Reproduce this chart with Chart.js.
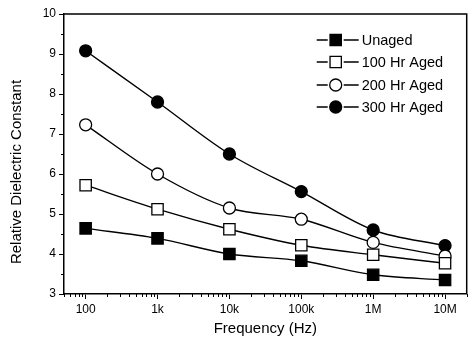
<!DOCTYPE html>
<html>
<head>
<meta charset="utf-8">
<script src="https://cdn.jsdelivr.net/npm/chart.js@4.4.1/dist/chart.umd.min.js"></script>
<style>
  html, body { margin: 0; padding: 0; background: #fff; }
  #wrap { width: 476px; height: 343px; }
</style>
</head>
<body>
<div id="wrap"><canvas id="chart"></canvas></div>
<script>
// 频率（Hz）与各老化时间的相对介电常数
const frequencies = [100, 1000, 10000, 100000, 1000000, 10000000];
const unaged   = [4.64, 4.39, 4.00, 3.83, 3.48, 3.35];
const aged100  = [5.72, 5.12, 4.62, 4.22, 3.98, 3.77];
const aged200  = [7.23, 6.00, 5.15, 4.87, 4.29, 3.95];
const aged300  = [9.08, 7.80, 6.50, 5.56, 4.60, 4.21];
const seriesNames = ['Unaged', '100 Hr Aged', '200 Hr Aged', '300 Hr Aged'];
const xTickLabels = { 100: '100', 1000: '1k', 10000: '10k', 100000: '100k', 1000000: '1M', 10000000: '10M' };

const FONT = 'Arial, "Liberation Sans", sans-serif';

function makeSeries(label, values, style, fill, radius) {
    return {
        label: label,
        data: values.map((v, i) => ({ x: frequencies[i], y: v })),
        borderColor: '#000',
        borderWidth: 1.4,
        cubicInterpolationMode: 'monotone',
        pointStyle: style,
        pointRadius: radius,
        pointHoverRadius: radius,
        pointBackgroundColor: fill,
        pointBorderColor: '#000',
        pointBorderWidth: 1.3
    };
}

const datasets = [
    makeSeries(seriesNames[0], unaged, 'rect', '#000', 8),
    makeSeries(seriesNames[1], aged100, 'rect', '#fff', 8),
    makeSeries(seriesNames[2], aged200, 'circle', '#fff', 6),
    makeSeries(seriesNames[3], aged300, 'circle', '#000', 6)
];

// 边框、次刻度、坐标轴标题和图例
const decorPlugin = {
    id: 'decor',
    afterDraw(chart) {
        const ctx = chart.ctx;
        const area = chart.chartArea;
        const xs = chart.scales.x;
        const ys = chart.scales.y;
        ctx.save();
        ctx.strokeStyle = '#000';
        ctx.lineWidth = 1.5;
        ctx.beginPath();
        ctx.moveTo(area.left, area.top);
        ctx.lineTo(area.right, area.top);
        ctx.lineTo(area.right, area.bottom);
        ctx.stroke();

        // 次刻度
        ctx.lineWidth = 1;
        ctx.beginPath();
        for (let d = 10; d <= 1e7; d *= 10) {
            for (let m = 2; m <= 9; m++) {
                const v = d * m;
                if (v < xs.min || v > xs.max) continue;
                const px = Math.round(xs.getPixelForValue(v)) + 0.5;
                ctx.moveTo(px, area.bottom);
                ctx.lineTo(px, area.bottom + 3);
            }
        }
        for (let v = ys.min + 0.5; v < ys.max; v += 1) {
            const py = Math.round(ys.getPixelForValue(v)) + 0.5;
            ctx.moveTo(area.left, py);
            ctx.lineTo(area.left - 3, py);
        }
        ctx.stroke();

        // 坐标轴标题
        ctx.fillStyle = '#000';
        ctx.font = '15px ' + FONT;
        ctx.textAlign = 'center';
        ctx.textBaseline = 'middle';
        ctx.fillText('Frequency (Hz)', (area.left + area.right) / 2, 329);
        ctx.save();
        ctx.translate(17, 172);
        ctx.rotate(-Math.PI / 2);
        ctx.fillText('Relative Dielectric Constant', 0, 0);
        ctx.restore();

        // 图例：线段在标记两侧断开
        const lx = area.right - 150;
        const rows = [40, 62, 85, 107];
        chart.data.datasets.forEach((ds, i) => {
            const y = rows[i];
            const cx = lx + 19;
            const gap = ds.pointStyle === 'rect' ? 7 : 7;
            ctx.strokeStyle = '#000';
            ctx.lineWidth = 1.4;
            ctx.beginPath();
            ctx.moveTo(lx, y);
            ctx.lineTo(cx - gap - 1, y);
            ctx.moveTo(cx + gap + 1, y);
            ctx.lineTo(lx + 42, y);
            ctx.stroke();
            ctx.fillStyle = ds.pointBackgroundColor;
            ctx.lineWidth = ds.pointBorderWidth;
            Chart.helpers.drawPoint(ctx, {
                pointStyle: ds.pointStyle,
                radius: ds.pointRadius,
                rotation: 0,
                borderWidth: ds.pointBorderWidth
            }, cx, y);
            ctx.fillStyle = '#000';
            ctx.font = '14.5px ' + FONT;
            ctx.textAlign = 'left';
            ctx.fillText(ds.label, lx + 45, y + 1);
        });
        ctx.restore();
    }
};

const ctx = document.getElementById('chart').getContext('2d');
new Chart(ctx, {
    type: 'line',
    data: { datasets: datasets },
    options: {
        responsive: true,
        maintainAspectRatio: false,
        animation: false,
        events: [],
        layout: { padding: { top: 14, right: 3, left: 0, bottom: 0 } },
        plugins: {
            legend: { display: false },
            tooltip: { enabled: false }
        },
        scales: {
            x: {
                type: 'logarithmic',
                min: 50,
                max: 2e7,
                afterBuildTicks: (scale) => {
                    scale.ticks = frequencies.map(v => ({ value: v }));
                },
                afterFit: (scale) => { scale.height = 49; },
                ticks: {
                    autoSkip: false,
                    maxRotation: 0,
                    padding: 3,
                    color: '#000',
                    font: { family: FONT, size: 12 },
                    callback: (v) => xTickLabels[v] || ''
                },
                grid: { drawOnChartArea: false, tickLength: 5, tickColor: '#000', tickWidth: 1 },
                border: { color: '#000', width: 1.5 }
            },
            y: {
                min: 3,
                max: 10,
                afterFit: (scale) => { scale.width = 64; },
                ticks: {
                    stepSize: 1,
                    padding: 3,
                    color: '#000',
                    font: { family: FONT, size: 12 }
                },
                grid: { drawOnChartArea: false, tickLength: 5, tickColor: '#000', tickWidth: 1 },
                border: { color: '#000', width: 1.5 }
            }
        }
    },
    plugins: [decorPlugin]
});
</script>
</body>
</html>
